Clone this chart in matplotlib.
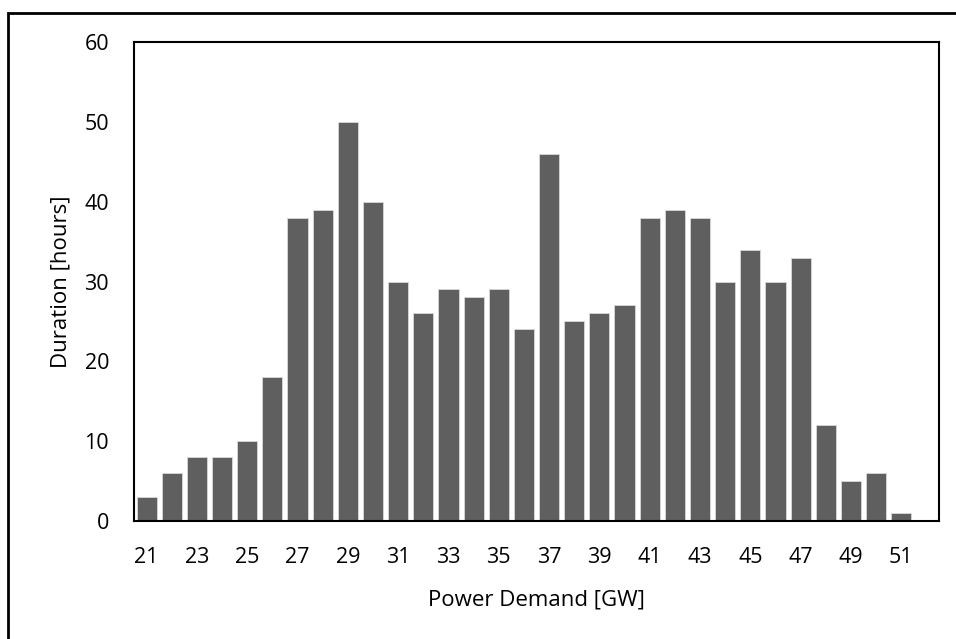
import matplotlib.pyplot as plt
from matplotlib.patches import Rectangle

plt.rcParams['font.family'] = ['Open Sans', 'DejaVu Sans']

demand = list(range(21, 53))
hours = [3, 6, 8, 8, 10, 18, 38, 39, 50, 40, 30, 26, 29, 28, 29, 24,
         46, 25, 26, 27, 38, 39, 38, 30, 34, 30, 33, 12, 5, 6, 1, 0]
tick_labels = [str(d) for d in range(21, 52, 2)]

W, H = 956, 639
fig = plt.figure(figsize=(W / 100, H / 100), dpi=100)
ax = fig.add_axes([134 / W, 1 - 521 / H, (939 - 134) / W, (521 - 42) / H])

x = list(range(len(demand)))
ax.bar(x, hours, width=0.8, color='#5f5f5f', edgecolor='#d9d9d9', linewidth=0.6)

ax.set_xlim(-0.5, len(demand) - 0.5)
ax.set_ylim(0, 60)
ax.set_yticks([0, 10, 20, 30, 40, 50, 60])
ax.set_xticks(x[::2])
ax.set_xticklabels(tick_labels)
ax.tick_params(length=0, labelsize=15.5)
ax.tick_params(axis='x', pad=19)
ax.tick_params(axis='y', pad=18)
for s in ax.spines.values():
    s.set_linewidth(1.5)
    s.set_color('black')

ax.set_xlabel('Power Demand [GW]', fontsize=16, labelpad=15)
ax.set_ylabel('Duration [hours]', fontsize=16, labelpad=9)

# outer chart frame (left and top edges visible)
fig.patches.append(Rectangle((8 / W, -0.1), 1.2, 1 - 13 / H + 0.1,
                             transform=fig.transFigure, fill=False,
                             edgecolor='black', linewidth=2))

fig.savefig('out.png', dpi=100)
